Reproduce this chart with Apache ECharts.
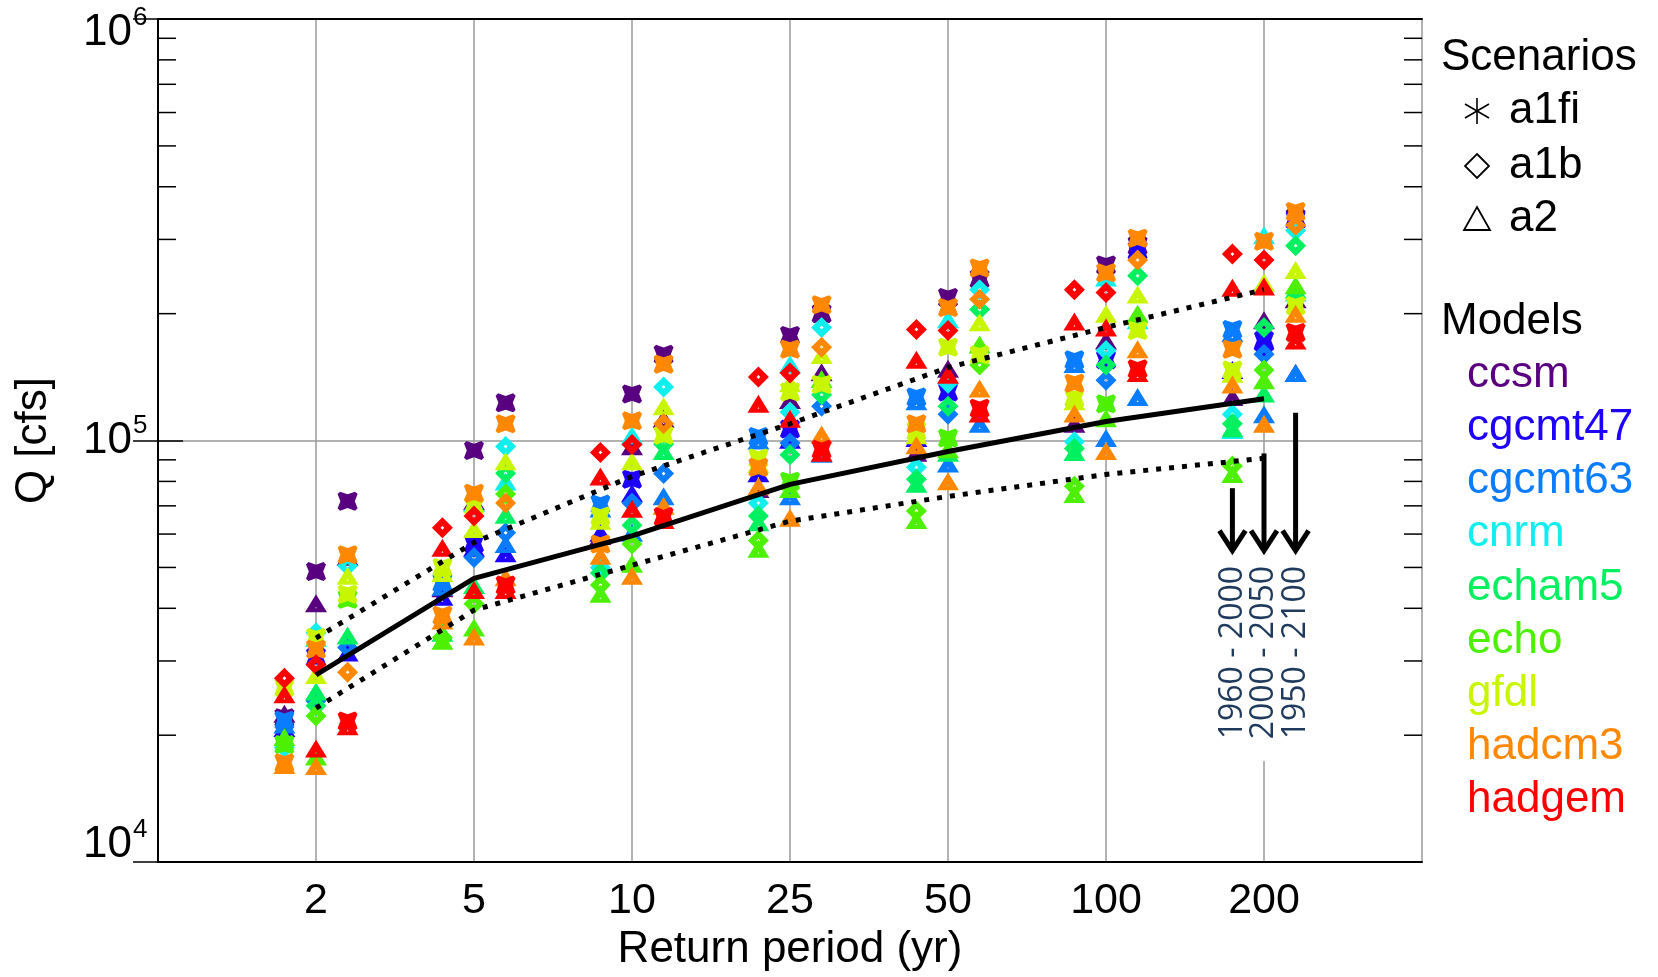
<!DOCTYPE html>
<html>
<head>
<meta charset="utf-8">
<script src="https://cdn.jsdelivr.net/npm/echarts@6/dist/echarts.min.js"></script>
<style>
html,body{margin:0;padding:0;background:#fff;}
#chart{width:1658px;height:977px;}
</style>
</head>
<body>
<div id="chart"></div>
<script>
// ---------------- data ----------------
const xLabels = ['2', '5', '10', '25', '50', '100', '200'];
const periodOffsets = [-0.2, 0, 0.2];               // 1960-2000, 2000-2050, 1950-2100
const periodLabels = ['1960 - 2000', '2000 - 2050', '1950 - 2100'];
const models = ['ccsm', 'cgcmt47', 'cgcmt63', 'cnrm', 'echam5', 'echo', 'gfdl', 'hadcm3', 'hadgem'];
const modelColors = ['#58007f', '#1e00ff', '#0a7cff', '#11eeee', '#00f060', '#4cf000', '#c8f500', '#ff8800', '#ff0000'];
const scenarios = ['a1fi', 'a1b', 'a2'];

// values in cfs; 21 entries = 7 return periods x [1960-2000, 2000-2050, 1950-2100]
const ccsm_a1fi = [22000, 48900, 71800, null, 94700, 122900, null, 129000, 160200, null, 177600, 200000, null, 218500, 241800, null, 261000, 290000, null, null, 336800];
const ccsm_a1b = [null, null, null, null, null, null, null, null, null, null, null, null, null, null, null, null, null, null, null, null, null];
const ccsm_a2 = [22500, 41100, 53000, 44600, 71800, null, 59400, 97000, 112600, 76800, 124800, 145300, 93600, 148000, null, 109600, 172800, null, 126900, 193000, 216500];

const cgcmt47_a1fi = [null, 30600, null, null, 57000, null, null, 81000, null, null, 106500, null, null, 130400, null, null, 155400, 282000, null, 172800, 334000];
const cgcmt47_a1b = [null, null, null, null, null, null, null, null, null, null, null, null, null, null, null, null, null, null, null, 165000, null];
const cgcmt47_a2 = [20800, null, 31400, 42600, 55700, 54000, 60400, 75000, null, 83600, 100500, null, 101400, null, null, null, null, null, 147000, null, 144600];

const cgcmt63_a1fi = [21700, null, null, 46000, null, null, 70700, null, null, 102200, null, null, 126900, null, null, 155400, null, null, 183500, null, null];
const cgcmt63_a1b = [null, 24100, 32300, null, 52800, 60400, null, 71100, 83500, null, 98700, 120600, null, 115400, null, null, 139000, null, null, 160200, null];
const cgcmt63_a2 = [21200, null, null, 45000, null, 56800, 69000, 60400, 73800, 100000, 73800, 93000, 124000, 88200, 109600, 152000, 101400, 126900, 180000, 115400, 144600];

const cnrm_a1fi = [null, null, null, null, null, null, null, null, null, null, null, null, null, null, null, null, null, null, null, null, null];
const cnrm_a1b = [18700, 35000, 50500, null, null, 96800, 50000, null, 134000, 71100, 116800, 185500, 86400, 136800, 228000, 99400, 163500, null, 115400, null, 315000];
const cnrm_a2 = [null, 34000, null, null, 71000, 80000, null, 103000, null, null, 151800, null, null, 194000, null, null, 243500, 193000, 106000, 307000, 224600];

const echam5_a1fi = [null, null, null, null, null, null, null, null, null, null, null, null, null, null, null, null, null, null, null, null, null];
const echam5_a1b = [null, 23500, null, null, null, 83600, 48500, 63000, 98000, 66200, 92600, 128400, 81000, 120600, 204600, 95700, 151000, 246000, 109600, 185500, 290000];
const echam5_a2 = [null, 25400, 34500, 35000, 45400, 66700, null, null, 94500, 64000, null, null, 79000, 93600, null, 94000, null, null, 107000, 129300, 228000];

const echo_a1fi = [19000, null, 42000, null, null, null, null, null, null, null, 80100, null, null, 101400, null, null, 122200, null, null, null, null];
const echo_a1b = [null, 22200, null, 34100, 41000, 74700, 45400, 56800, null, 57900, null, null, 68100, null, 151000, 77900, null, null, 87000, 147000, null];
const echo_a2 = [19800, 17800, null, 33500, 36000, null, 43300, 51000, null, 55400, 76800, 140000, 64800, 95300, 169000, 74700, 113000, 200000, 83300, 139000, 233600];

const gfdl_a1fi = [26000, 34100, 43200, 50000, 70000, null, 66200, null, 103000, 90900, 130400, 135900, 105300, 166500, 159600, 126200, null, 182500, 147000, null, 209000];
const gfdl_a1b = [null, null, null, null, null, null, null, null, null, null, null, null, null, null, null, null, null, null, null, null, null];
const gfdl_a2 = [null, 27800, 47800, 48500, 61700, 89300, 64500, 89300, 120600, 88000, 136800, 159600, 103000, null, 190900, 124000, 200000, 222000, 144000, 236800, 254000];

const hadcm3_a1fi = [17200, 32000, 53600, 38500, 75000, 109600, 56800, 111400, 151800, 86400, 164700, 210000, 109600, 206700, 256700, 136800, 250000, 302000, 164700, 297000, 349600];
const hadcm3_a1b = [null, null, 28200, null, null, 71100, null, null, 109600, null, null, 166500, null, null, 216500, null, null, 268000, null, null, 324000];
const hadcm3_a2 = [17000, 16900, null, 37400, 34300, 47400, 53300, 47800, 70000, 77900, 65600, 103400, 97400, 80100, 132900, 116000, 94500, 164700, 135900, 109600, 200000];

const hadgem_a1fi = [null, null, 21600, null, null, 45400, null, null, 66000, null, null, 95300, null, null, 119300, null, null, 148000, null, null, 180500];
const hadgem_a1b = [27300, 29400, null, 62100, 66200, null, 93700, 97900, null, 141500, 144600, null, 183500, 182500, null, 228000, 224600, null, 277000, 268000, null];
const hadgem_a2 = [25000, 18600, 21000, 55700, 44200, 44200, 82200, 68900, 64800, 122200, 112600, 93600, 155400, 143300, 116000, 191600, 185500, 144600, 230300, 232000, 172800];

// ensemble curves at the 7 return periods
const medianQ = [27800, 47100, 59400, 78700, 94200, 111000, 125600];
const upperQ = [34000, 57300, 82200, 109600, 149000, 185500, 228000];
const lowerQ = [23200, 39600, 50600, 64400, 73700, 83100, 90800];

// annotation arrows (x in return-period index units, y in cfs)
const arrowX = [6.8, 7.0, 7.2];
const arrowTopQ = [77100, 93200, 116400];
const arrowTipQ = 54200;
const periodLabelQ = 31400;

// axis ticks
const yMajorTicks = [1e4, 1e5, 1e6];
const yMinorTicks = [2e4, 3e4, 4e4, 5e4, 6e4, 7e4, 8e4, 9e4, 2e5, 3e5, 4e5, 5e5, 6e5, 7e5, 8e5, 9e5];

// --------------- build ---------------
const table = {
  ccsm: [ccsm_a1fi, ccsm_a1b, ccsm_a2],
  cgcmt47: [cgcmt47_a1fi, cgcmt47_a1b, cgcmt47_a2],
  cgcmt63: [cgcmt63_a1fi, cgcmt63_a1b, cgcmt63_a2],
  cnrm: [cnrm_a1fi, cnrm_a1b, cnrm_a2],
  echam5: [echam5_a1fi, echam5_a1b, echam5_a2],
  echo: [echo_a1fi, echo_a1b, echo_a2],
  gfdl: [gfdl_a1fi, gfdl_a1b, gfdl_a2],
  hadcm3: [hadcm3_a1fi, hadcm3_a1b, hadcm3_a2],
  hadgem: [hadgem_a1fi, hadgem_a1b, hadgem_a2]
};

const SYM = [
  'path://M-1,-0.75L-0.75,-1L0,-0.72L0.75,-1L1,-0.75L0.72,0L1,0.75L0.75,1L0,0.72L-0.75,1L-1,0.75L-0.72,0Z',
  'path://M0,-1L1,0L0,1L-1,0Z M0,-0.18L-0.18,0L0,0.18L0.18,0Z',
  'path://M0,-1L1,1L-1,1Z M0,0.38L-0.09,0.55L0.09,0.55Z'
];
const SYM_SIZE = [[20, 19], [21, 21], [22, 18]];

const FONT = "'Liberation Sans', Arial, Helvetica, sans-serif";

function xOf(i) { return Math.floor(i / 3) + 1 + periodOffsets[i % 3]; }

const series = [];
models.forEach((m, mi) => {
  scenarios.forEach((s, si) => {
    const vals = table[m][si];
    const data = [];
    vals.forEach((v, i) => { if (v != null) data.push([xOf(i), v]); });
    series.push({
      type: 'scatter', name: m + ' ' + s, z: 2,
      symbol: SYM[si], symbolSize: SYM_SIZE[si],
      itemStyle: { color: modelColors[mi], opacity: 1 },
      data: data, silent: true, animation: false
    });
  });
});

function curve(arr, dashed) {
  return {
    type: 'line', z: 3, silent: true, animation: false, symbol: 'none',
    data: arr.map((v, i) => [i + 1, v]),
    lineStyle: dashed ? { color: '#000', width: 5, type: [5, 8], cap: 'butt' } : { color: '#000', width: 5 }
  };
}
series.push(curve(medianQ, false), curve(upperQ, true), curve(lowerQ, true));

// minor ticks on left and right frame
series.push({
  type: 'custom', z: 4, silent: true, animation: false,
  data: yMinorTicks.map(v => [0, v]),
  renderItem: function (params, api) {
    const p0 = api.coord([0, api.value(1)]);
    const p1 = api.coord([8, api.value(1)]);
    return { type: 'group', children: [
      { type: 'line', shape: { x1: p0[0], y1: p0[1], x2: p0[0] + 18, y2: p0[1] }, style: { stroke: '#000', lineWidth: 1.5 } },
      { type: 'line', shape: { x1: p1[0] - 18, y1: p1[1], x2: p1[0], y2: p1[1] }, style: { stroke: '#000', lineWidth: 1.5 } }
    ] };
  }
});

// y tick labels 10^n
const labelShift = { 4: -17, 5: 0, 6: 14 };
series.push({
  type: 'custom', z: 4, silent: true, animation: false,
  data: yMajorTicks.map(v => [0, v]),
  renderItem: function (params, api) {
    const v = api.value(1);
    const e = Math.round(Math.log10(v));
    const p = api.coord([0, v]);
    const cy = p[1] + labelShift[e];
    return { type: 'group', children: [
      { type: 'text', x: p[0] - 26, y: cy, style: { text: '10', font: '44px ' + FONT, fill: '#000', align: 'right', verticalAlign: 'middle' } },
      { type: 'text', x: p[0] - 25, y: cy - 15, style: { text: String(e), font: '26px ' + FONT, fill: '#000', align: 'left', verticalAlign: 'middle' } }
    ] };
  }
});

// arrows + period labels
series.push({
  type: 'custom', z: 5, silent: true, animation: false,
  data: arrowX.map((x, i) => [x, arrowTopQ[i], i]),
  renderItem: function (params, api) {
    const x = api.value(0);
    const i = api.value(2);
    const top = api.coord([x, api.value(1)]);
    const tip = api.coord([x, arrowTipQ]);
    const lab = api.coord([x, periodLabelQ]);
    return { type: 'group', children: [
      { type: 'text', x: lab[0], y: lab[1], rotation: Math.PI / 2,
        style: { text: periodLabels[i], font: "32px 'Open Sans', sans-serif", fill: '#1f3a5c', align: 'center', verticalAlign: 'middle',
                 backgroundColor: '#fff', padding: [0, 22, 0, 22] } },
      { type: 'line', shape: { x1: top[0], y1: top[1], x2: tip[0], y2: tip[1] - 3 }, style: { stroke: '#000', lineWidth: 5 } },
      { type: 'polyline', shape: { points: [[tip[0] - 13, tip[1] - 22], [tip[0], tip[1] - 2], [tip[0] + 13, tip[1] - 22]] },
        style: { stroke: '#000', lineWidth: 5, fill: null, lineJoin: 'miter' } }
    ] };
  }
});

// legend (right side)
const legendX = 1441;
const graphics = [];
graphics.push({ type: 'text', x: legendX, y: 58, style: { text: 'Scenarios', font: '44px ' + FONT, fill: '#000', verticalAlign: 'middle' } });
const scY = [111, 166, 219];
scenarios.forEach((s, i) => {
  graphics.push({ type: 'text', x: 1509, y: scY[i], style: { text: s, font: '44px ' + FONT, fill: '#000', verticalAlign: 'middle' } });
});
const cx = 1477;
graphics.push({ type: 'group', children: [
  { type: 'line', shape: { x1: cx, y1: scY[0] - 13, x2: cx, y2: scY[0] + 13 }, style: { stroke: '#000', lineWidth: 1.6 } },
  { type: 'line', shape: { x1: cx - 12, y1: scY[0] - 7, x2: cx + 12, y2: scY[0] + 7 }, style: { stroke: '#000', lineWidth: 1.6 } },
  { type: 'line', shape: { x1: cx - 12, y1: scY[0] + 7, x2: cx + 12, y2: scY[0] - 7 }, style: { stroke: '#000', lineWidth: 1.6 } },
  { type: 'polygon', shape: { points: [[cx, scY[1] - 12], [cx + 12, scY[1]], [cx, scY[1] + 12], [cx - 12, scY[1]]] }, style: { stroke: '#000', fill: null, lineWidth: 1.8 } },
  { type: 'polygon', shape: { points: [[cx, scY[2] - 12], [cx + 13, scY[2] + 11], [cx - 13, scY[2] + 11]] }, style: { stroke: '#000', fill: null, lineWidth: 1.8 } }
] });
graphics.push({ type: 'text', x: legendX, y: 322, style: { text: 'Models', font: '44px ' + FONT, fill: '#000', verticalAlign: 'middle' } });
models.forEach((m, i) => {
  graphics.push({ type: 'text', x: 1467, y: 375 + i * 53.1, style: { text: m, font: '44px ' + FONT, fill: modelColors[i], verticalAlign: 'middle' } });
});

const option = {
  backgroundColor: '#fff',
  animation: false,
  grid: { left: 158, right: 236, top: 19, bottom: 108, containLabel: false },
  xAxis: [
    { type: 'value', min: 0, max: 8, interval: 1, position: 'bottom',
      name: 'Return period (yr)', nameLocation: 'middle', nameGap: 64,
      nameTextStyle: { fontSize: 44, fontFamily: FONT, color: '#000' },
      axisLine: { show: true, lineStyle: { color: '#000', width: 2 } },
      axisTick: { show: false },
      axisLabel: { margin: 18, fontSize: 43, fontFamily: FONT, color: '#000',
        formatter: v => (v >= 1 && v <= 7) ? xLabels[v - 1] : '' },
      splitLine: { show: true, lineStyle: { color: '#999', width: 1.5 } } },
    { type: 'value', min: 0, max: 8, interval: 1, position: 'top',
      axisLine: { show: true, lineStyle: { color: '#000', width: 2 } },
      axisTick: { show: false }, axisLabel: { show: false }, splitLine: { show: false } }
  ],
  yAxis: [
    { type: 'log', logBase: 10, min: 1e4, max: 1e6, position: 'left',
      name: 'Q [cfs]', nameLocation: 'middle', nameGap: 102,
      nameTextStyle: { fontSize: 44, fontFamily: FONT, color: '#000' },
      axisLine: { show: true, lineStyle: { color: '#000', width: 2 } },
      axisTick: { show: true, inside: true, length: 25, lineStyle: { color: '#000', width: 1.5 } },
      axisLabel: { show: false },
      splitLine: { show: true, lineStyle: { color: '#999', width: 1.5 } } },
    { type: 'log', logBase: 10, min: 1e4, max: 1e6, position: 'right',
      axisLine: { show: true, lineStyle: { color: '#000', width: 2 } },
      axisTick: { show: true, inside: true, length: 25, lineStyle: { color: '#000', width: 1.5 } },
      axisLabel: { show: false }, splitLine: { show: false } }
  ],
  graphic: graphics,
  series: series
};

const chart = echarts.init(document.getElementById('chart'), null, { renderer: 'canvas' });
chart.setOption(option);
</script>
</body>
</html>
